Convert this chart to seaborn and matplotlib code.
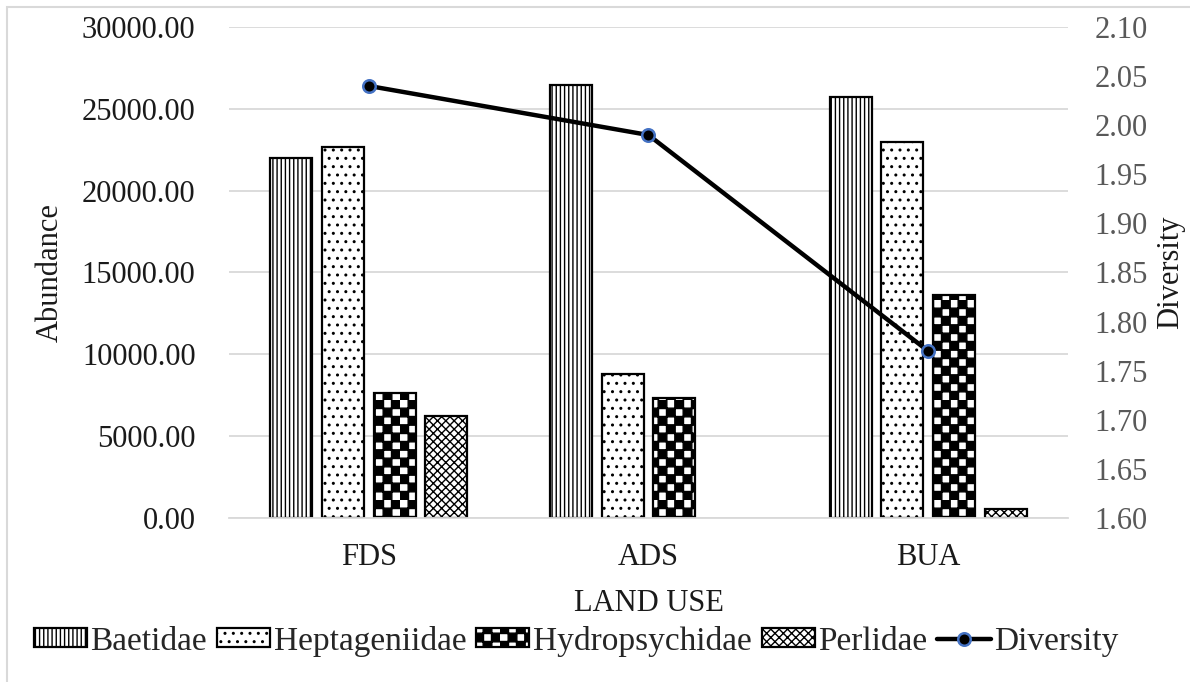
import numpy as np
import pandas as pd
import seaborn as sns
import matplotlib
matplotlib.use("Agg")
import matplotlib.pyplot as plt
from matplotlib import hatch as mhatch
from matplotlib.path import Path
from matplotlib.patches import Patch, Rectangle
from matplotlib.lines import Line2D
from matplotlib.ticker import FormatStrFormatter

# ---- data ----
land_use = ["FDS", "ADS", "BUA"]
families = ["Baetidae", "Heptageniidae", "Hydropsychidae", "Perlidae"]
baetidae = [22000, 26450, 25750]
heptageniidae = [22650, 8800, 22950]
hydropsychidae = [7650, 7350, 13650]
perlidae = [6250, 0, 550]
diversity = [2.04, 1.99, 1.77]
abundance_ticks = [0, 5000, 10000, 15000, 20000, 25000, 30000]
diversity_ticks = [1.60, 1.65, 1.70, 1.75, 1.80, 1.85, 1.90, 1.95, 2.00, 2.05, 2.10]
family_hatches = ["||||", "..", "*", "xxxx"]


# checkerboard fill pattern, bound to the '*' hatch character
class CheckerHatch(mhatch.HatchPatternBase):
    def __init__(self, hatch, density):
        self.cells = 2 * hatch.count("*") * int(density)
        self.num_vertices = (self.cells * self.cells // 2) * 5 if self.cells else 0

    def set_vertices_and_codes(self, vertices, codes):
        s = 1.0 / self.cells
        grow = 0.02 * s
        k = 0
        for i in range(self.cells):
            for j in range(self.cells):
                if (i + j) % 2:
                    continue
                x0, y0 = i * s - grow, j * s - grow
                x1, y1 = (i + 1) * s + grow, (j + 1) * s + grow
                vertices[k:k + 5] = [(x0, y0), (x1, y0), (x1, y1), (x0, y1), (x0, y0)]
                codes[k:k + 5] = [Path.MOVETO, Path.LINETO, Path.LINETO,
                                  Path.LINETO, Path.CLOSEPOLY]
                k += 5


mhatch._hatch_types = [t for t in mhatch._hatch_types if t is not mhatch.Stars] + [CheckerHatch]

sns.set_style("white")
plt.rcParams["font.family"] = ["Liberation Serif", "DejaVu Serif"]
plt.rcParams["hatch.linewidth"] = 1.0

abundance = pd.DataFrame(
    {"Land use": land_use, "Baetidae": baetidae, "Heptageniidae": heptageniidae,
     "Hydropsychidae": hydropsychidae, "Perlidae": perlidae}
).melt(id_vars="Land use", var_name="Family", value_name="Abundance")

fig = plt.figure(figsize=(11.9, 6.82), dpi=100)
fig.subplots_adjust(left=0.1924, right=0.8975, bottom=0.2405, top=0.9604)
ax = fig.add_subplot(111)

sns.barplot(data=abundance, x="Land use", y="Abundance", hue="Family",
            order=land_use, hue_order=families, width=0.74, gap=0.19,
            palette={f: "white" for f in families}, edgecolor="black",
            linewidth=1.6, errorbar=None, legend=False, ax=ax)

for container, hatch in zip(ax.containers, family_hatches):
    for bar in container:
        bar.set_hatch(hatch)
        if bar.get_height() == 0:
            bar.set_visible(False)

ax.set_xlim(-0.5, 2.5)
ax.set_ylim(0, 30000)
ax.set_yticks(abundance_ticks)
ax.yaxis.set_major_formatter(FormatStrFormatter("%.2f"))
ax.grid(axis="y", color="#d9d9d9", linewidth=1.3)
ax.grid(axis="x", visible=False)
ax.set_axisbelow(True)
for side in ["top", "left", "right"]:
    ax.spines[side].set_visible(False)
ax.spines["bottom"].set_color("#d9d9d9")
ax.spines["bottom"].set_linewidth(1.3)
ax.tick_params(axis="y", length=0, pad=24, labelsize=22, labelcolor="#1a1a1a")
ax.tick_params(axis="x", length=0, pad=18, labelsize=22, labelcolor="#1a1a1a")
ax.set_xlabel("LAND USE", fontsize=22, color="#1a1a1a", labelpad=12)
ax.set_ylabel("Abundance", fontsize=22, color="#1a1a1a", labelpad=12)

ax2 = ax.twinx()
sns.lineplot(x=[0, 1, 2], y=diversity, ax=ax2, color="black", linewidth=3.2,
             marker="o", markersize=9, markerfacecolor="black",
             markeredgecolor="#4472C4", markeredgewidth=1.8)
ax2.set_ylim(1.60, 2.10)
ax2.set_yticks(diversity_ticks)
ax2.yaxis.set_major_formatter(FormatStrFormatter("%.2f"))
for side in ["top", "left", "right", "bottom"]:
    ax2.spines[side].set_visible(False)
ax2.tick_params(axis="y", length=0, pad=19, labelsize=22, labelcolor="#595959")
ax2.set_ylabel("Diversity", fontsize=22, color="#1a1a1a", labelpad=6)
ax2.grid(False)

handles = [Patch(facecolor="white", edgecolor="black", linewidth=1.6, hatch=h)
           for h in family_hatches]
handles.append(Line2D([], [], color="black", linewidth=3.2, marker="o",
                      markersize=9, markerfacecolor="black",
                      markeredgecolor="#4472C4", markeredgewidth=1.8))
fig.legend(handles, families + ["Diversity"], loc="center", ncol=5,
           bbox_to_anchor=(0.484, 0.06), frameon=False, fontsize=24,
           handlelength=1.6, handleheight=0.5, handletextpad=0.1,
           columnspacing=0.3, borderaxespad=0)

# outer frame of the chart area
fig.patches.append(Rectangle((7, -10), 1300, 682 - 7 + 10, transform=None,
                             fill=False, edgecolor="#d9d9d9", linewidth=1.5))

fig.savefig("out.png", dpi=100)
